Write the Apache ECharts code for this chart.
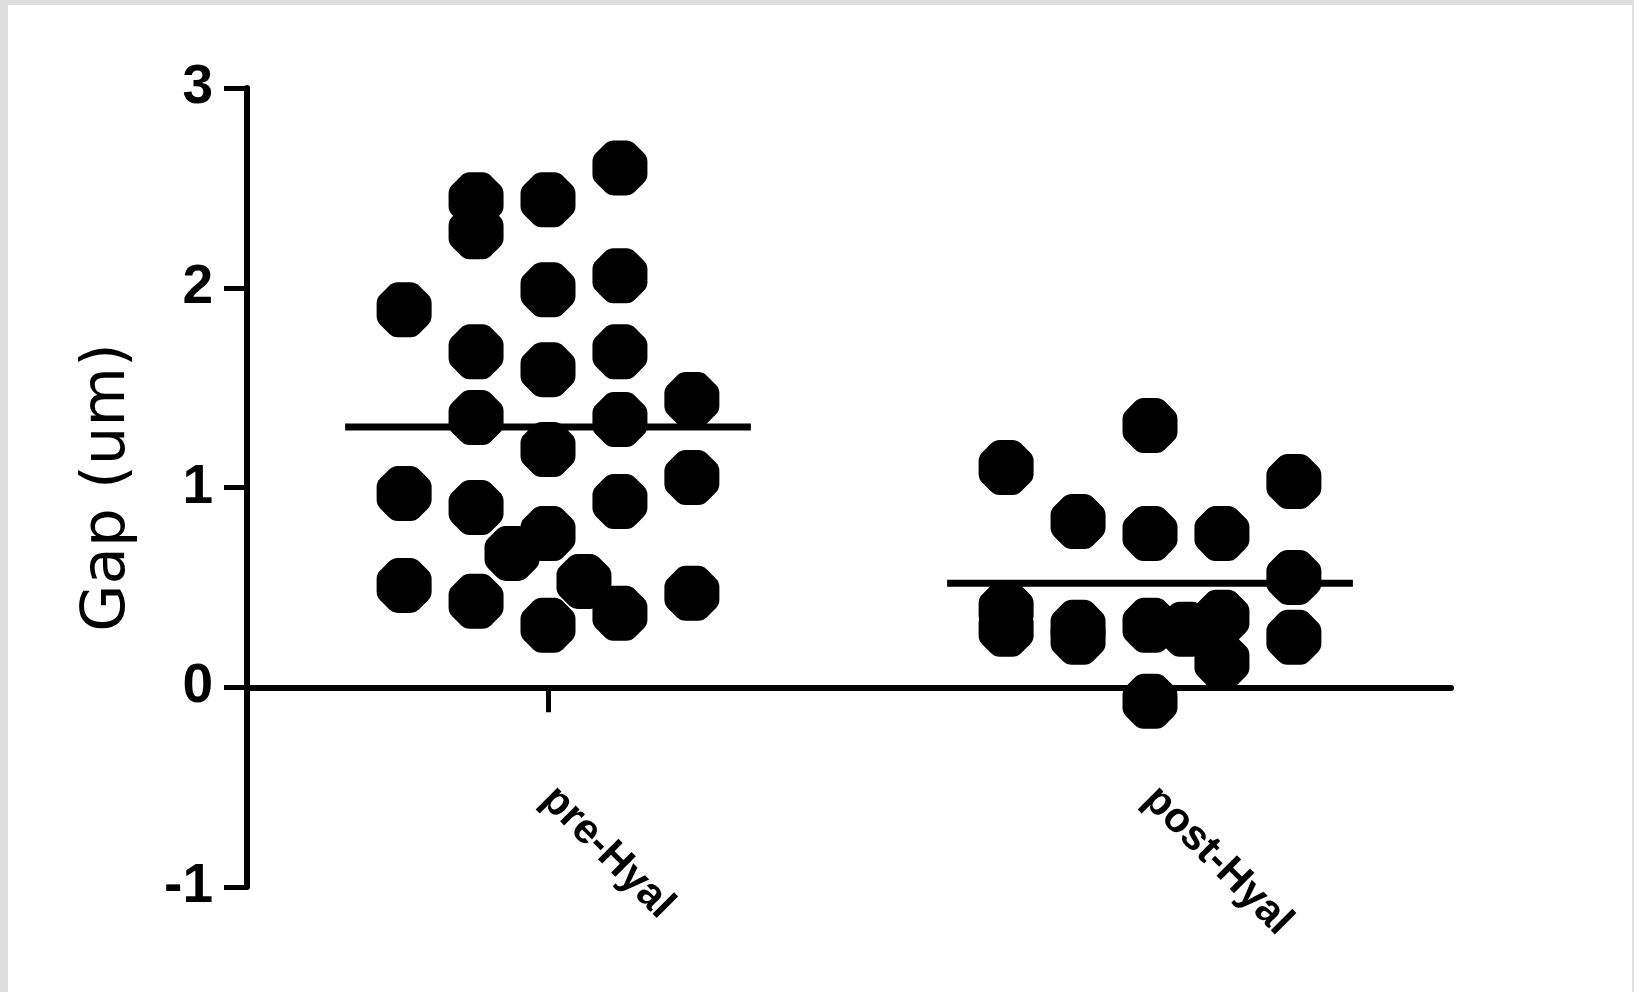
<!DOCTYPE html>
<html>
<head>
<meta charset="utf-8">
<title>Gap (um)</title>
<script src="https://cdn.jsdelivr.net/npm/echarts@6/dist/echarts.min.js"></script>
<style>
  html, body { margin: 0; padding: 0; }
  body { width: 1634px; height: 992px; background: #dedede; position: relative; overflow: hidden; }
  #chart { position: absolute; left: 8px; top: 5px; width: 1624px; height: 987px; background: #ffffff; }
</style>
</head>
<body>
<div id="chart"></div>
<script>
// Groups shown along the x axis
const categories = ['pre-Hyal', 'post-Hyal'];

// Y axis range and tick step
const yMin = -1;
const yMax = 3;
const yStep = 1;

// Measured gaps (um), one entry per sample
const preValues = [2.60, 2.44, 2.28, 2.44, 2.06, 1.99, 1.89, 1.68, 1.68, 1.59, 1.44, 1.35, 1.34,
                   1.19, 1.05, 0.97, 0.90, 0.93, 0.77, 0.67, 0.51, 0.43, 0.53, 0.37, 0.47, 0.31];
const postValues = [1.31, 1.10, 1.03, 0.83, 0.77, 0.77, 0.55, 0.39, 0.29, 0.30, 0.25, 0.31,
                    0.29, 0.35, 0.13, 0.25, -0.07];

// Column-scatter lane of each sample (0 = centre of the group)
const preLanes = [1, -1, -1, 0, 1, 0, -2, -1, 1, 0, 2, -1, 1, 0, 2, -2, -1, 1, 0, -0.5, -2, -1, 0.5, 1, 2, 0];
const postLanes = [0, -2, 2, -1, 0, 1, 2, -2, -2, -1, -1, 0, 0.5, 1, 1, 2, 0];

const groups = [
  { values: preValues, lanes: preLanes },
  { values: postValues, lanes: postLanes }
];

// Spread of the scatter columns and half-length of the mean bar, in group units
const laneWidth = 0.1195;
const meanHalfWidth = 0.337;

const FONT = "'Liberation Sans', Arial, Helvetica, sans-serif";
const NAME_FONT = "'DejaVu Sans', Verdana, sans-serif";

// Octagonal dot with softened corners
function roundedOctagonPath(t) {
  const k = 0.414;
  const v = [[-k, -1], [k, -1], [1, -k], [1, k], [k, 1], [-k, 1], [-1, k], [-1, -k]];
  const n = v.length;
  const lerp = (a, b, f) => [a[0] + (b[0] - a[0]) * f, a[1] + (b[1] - a[1]) * f];
  const f = x => x.toFixed(4);
  let d = '';
  for (let i = 0; i < n; i++) {
    const p = v[(i - 1 + n) % n], c = v[i], q = v[(i + 1) % n];
    const a = lerp(c, p, t), b = lerp(c, q, t);
    d += (i === 0 ? 'M' : 'L') + f(a[0]) + ',' + f(a[1]) + 'Q' + f(c[0]) + ',' + f(c[1]) + ' ' + f(b[0]) + ',' + f(b[1]);
  }
  return 'path://' + d + 'Z';
}
const dotSymbol = roundedOctagonPath(0.22);

const mean = arr => arr.reduce((s, v) => s + v, 0) / arr.length;

const series = [];
groups.forEach((g, gi) => {
  const m = mean(g.values);
  series.push({
    type: 'line',
    xAxisIndex: 1,
    yAxisIndex: 0,
    data: [[gi - meanHalfWidth, m], [gi + meanHalfWidth, m]],
    symbol: 'none',
    lineStyle: { color: '#000', width: 7, cap: 'butt' },
    silent: true,
    z: 3
  });
  series.push({
    type: 'scatter',
    xAxisIndex: 1,
    yAxisIndex: 0,
    data: g.values.map((v, i) => [gi + g.lanes[i] * laneWidth, v]),
    symbol: dotSymbol,
    symbolSize: 55,
    itemStyle: { color: '#000', opacity: 1 },
    z: 4
  });
});

const chart = echarts.init(document.getElementById('chart'), null, { renderer: 'canvas' });
chart.setOption({
  animation: false,
  backgroundColor: '#ffffff',
  grid: { left: 239, right: 181, top: 83, bottom: 105, containLabel: false, outerBoundsMode: 'none' },
  xAxis: [
    {
      type: 'category',
      data: categories,
      boundaryGap: true,
      axisLine: { show: true, onZero: true, lineStyle: { color: '#000', width: 6 } },
      axisTick: { show: true, alignWithLabel: true, length: 25, lineStyle: { color: '#000', width: 5 } },
      axisLabel: { rotate: -45, interval: 0, margin: -94, fontSize: 42, fontWeight: 'bold', color: '#000', fontFamily: FONT },
      splitLine: { show: false }
    },
    {
      type: 'value',
      min: -0.5,
      max: 1.5,
      show: false
    }
  ],
  yAxis: {
    type: 'value',
    min: yMin,
    max: yMax,
    interval: yStep,
    name: 'Gap (um)',
    nameLocation: 'middle',
    nameGap: 108,
    nameTextStyle: { fontSize: 61, color: '#000', fontFamily: NAME_FONT, fontWeight: 'normal' },
    axisLine: { show: true, onZero: false, lineStyle: { color: '#000', width: 6 } },
    axisTick: { show: true, length: 23, lineStyle: { color: '#000', width: 5 } },
    axisLabel: { margin: 34, fontSize: 55, fontWeight: 'bold', color: '#000', fontFamily: FONT },
    splitLine: { show: false }
  },
  series: series
});
</script>
</body>
</html>
